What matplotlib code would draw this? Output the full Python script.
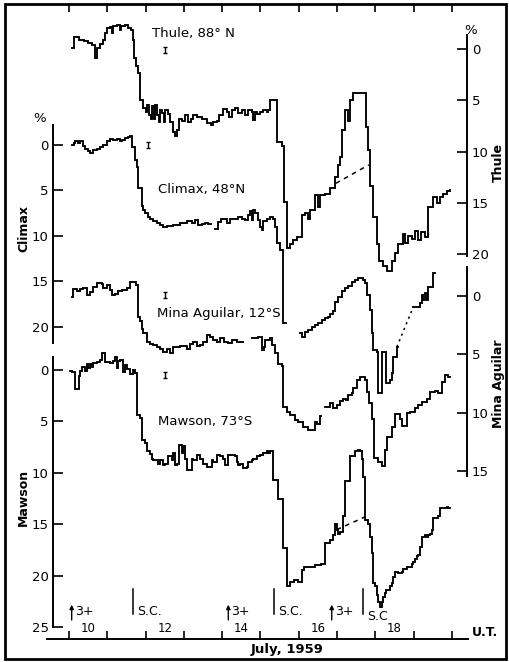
import numpy as np
import matplotlib
matplotlib.use("Agg")
import matplotlib.pyplot as plt
from matplotlib.patches import Rectangle
from matplotlib.transforms import blended_transform_factory

plt.rcParams['font.family'] = ['DejaVu Sans']

# ---------------------------------------------------------------------------
# Neutron monitor counting rates, July 1959 (percent decrease, step series).
# Each entry: time (day of July, UT) at which the level changes, new level.
# NaN marks a data gap.
# ---------------------------------------------------------------------------
thule_day = [10.07, 10.12, 10.25, 10.39, 10.50, 10.60, 10.69, 10.74, 10.81, 10.89,
             10.94, 10.99, 11.07, 11.11, 11.15, 11.25, 11.32, 11.37, 11.46, 11.54,
             11.63, 11.66, 11.70, 11.76, 11.81, 11.85, 11.94, 12.01, 12.04, 12.08,
             12.13, 12.17, 12.21, 12.25, 12.30, 12.34, 12.38, 12.43, 12.47, 12.51,
             12.58, 12.64, 12.71, 12.77, 12.81, 12.88, 12.95, 13.02, 13.11, 13.18,
             13.23, 13.33, 13.46, 13.60, 13.70, 13.75, 13.86, 13.92, 14.03, 14.12,
             14.19, 14.25, 14.33, 14.42, 14.51, 14.60, 14.68, 14.77, 14.81, 14.86,
             14.90, 14.99, 15.07, 15.16, 15.20, 15.25, 15.42, 15.55, 15.62, 15.68,
             15.77, 15.86, 15.95, 16.08, 16.16, 16.23, 16.29, 16.42, 16.51, 16.55,
             16.68, 16.81, 16.95, 17.03, 17.08, 17.12, 17.21, 17.29, 17.35, 17.42,
             17.60, 17.75, 17.81, 17.86, 17.95, 18.03, 18.10, 18.20, 18.30, 18.43,
             18.51, 18.60, 18.73, 18.77, 18.85, 18.96, 19.03, 19.11, 19.19, 19.30,
             19.38, 19.51, 19.60, 19.69, 19.77, 19.86, 19.95]
thule_pct = [-0.1, -1.2, -0.9, -0.8, -0.6, -0.4, 0.9, -0.1, -0.5, -0.9,
             -1.6, -2.0, -2.1, -1.6, -2.2, -2.3, -1.9, -2.2, -2.3, -2.0,
             -1.9, -0.9, 0.9, 1.7, 2.3, 5.0, 5.8, 6.1, 5.5, 6.4,
             6.8, 5.6, 6.8, 5.5, 6.4, 7.1, 6.0, 6.2, 7.1, 6.0,
             6.3, 7.1, 8.1, 8.5, 7.9, 6.8, 7.0, 6.4, 7.1, 6.8,
             6.4, 6.6, 6.8, 7.2, 7.4, 7.1, 7.0, 6.4, 5.9, 6.1,
             6.6, 6.0, 5.8, 6.2, 6.0, 6.4, 6.0, 6.1, 6.9, 6.1,
             6.3, 6.1, 6.0, 6.1, 6.0, 5.0, 9.1, 9.5, 14.9, 19.4,
             19.0, 18.6, 18.3, 16.2, 16.0, 16.6, 15.7, 14.2, 15.4, 14.2,
             14.1, 13.6, 12.5, 11.3, 10.5, 7.9, 6.0, 7.0, 5.0, 4.3,
             4.3, 7.6, 9.9, 13.4, 16.4, 19.0, 20.7, 21.2, 21.7, 20.7,
             19.9, 19.0, 18.0, 18.9, 18.2, 18.5, 17.8, 18.6, 17.9, 18.3,
             15.4, 14.4, 15.0, 14.4, 14.1, 13.9, 13.8]
thule_base_day = [16.97, 17.83]
thule_base_pct = [13.1, 11.3]

climax_day = [10.07, 10.12, 10.16, 10.23, 10.29, 10.37, 10.42, 10.50, 10.55, 10.63,
              10.72, 10.81, 10.90, 10.98, 11.07, 11.15, 11.25, 11.33, 11.38, 11.46,
              11.55, 11.59, 11.64, 11.72, 11.77, 11.81, 11.90, 11.94, 11.98, 12.07,
              12.11, 12.20, 12.29, 12.38, 12.46, 12.55, 12.72, 12.90, 13.07, 13.20,
              13.29, 13.38, 13.46, 13.55, 13.64, 13.72, 13.81, 13.90, 13.97, 14.12,
              14.20, 14.42, 14.51, 14.60, 14.68, 14.73, 14.77, 14.81, 14.86, 14.94,
              14.99, 15.03, 15.07, 15.16, 15.25, 15.33, 15.38, 15.42, 15.51, 15.60,
              15.67, 16.03, 16.08, 16.16, 16.25, 16.34, 16.42, 16.51, 16.60, 16.68,
              16.77, 16.81, 16.90, 16.95, 17.03, 17.12, 17.21, 17.29, 17.38, 17.47,
              17.55, 17.68, 17.73, 17.77, 17.86, 17.90, 17.95, 18.03, 18.08, 18.16,
              18.28, 18.38, 18.43, 18.47, 18.56, 18.59, 18.99, 19.16, 19.21, 19.25,
              19.30, 19.34, 19.38, 19.47, 19.51, 19.56]
climax_pct = [0.0, -0.2, -0.4, -0.2, -0.4, 0.1, 0.4, 0.7, 0.9, 0.5,
              0.4, 0.2, 0.0, -0.4, -0.7, -0.5, -0.7, -0.4, -0.5, -0.8,
              -0.9, -1.0, 0.2, 1.6, 2.4, 4.7, 6.7, 7.1, 7.5, 7.9,
              8.1, 8.4, 8.6, 8.8, 9.0, 8.9, 8.8, 8.6, 8.4, 8.6,
              8.2, 8.8, 8.7, 8.6, 8.7, np.nan, 9.2, 8.5, 8.1, 8.6,
              8.1, 7.9, 8.1, 8.2, 7.7, 7.3, 8.2, 7.1, 7.5, 8.2,
              9.0, 9.3, 8.4, 8.1, 7.9, 8.1, 9.0, 10.8, 11.5, 19.6,
              np.nan, 20.7, 21.1, 20.5, 20.3, 20.0, 19.8, 19.6, 19.2, 19.0,
              18.9, 18.6, 18.2, 17.3, 16.7, 16.0, 15.7, 15.5, 15.1, 14.8,
              14.6, 14.8, 15.2, 16.5, 18.1, 20.7, 22.5, 22.7, 27.3, 22.7,
              26.2, 25.8, 25.1, 23.3, 22.2, np.nan, 17.8, 17.4, 16.5, 17.0,
              16.3, 17.0, 15.6, 15.6, 14.1, 14.1]
climax_gap_day = [18.56, 18.99]
climax_gap_pct = [22.2, 17.8]

mina_day = [10.07, 10.10, 10.20, 10.29, 10.37, 10.46, 10.55, 10.63, 10.72, 10.85,
            10.90, 10.98, 11.07, 11.11, 11.20, 11.29, 11.38, 11.51, 11.59, 11.76,
            11.79, 11.85, 11.90, 11.94, 12.03, 12.11, 12.20, 12.29, 12.38, 12.46,
            12.55, 12.64, 12.72, 12.90, 13.07, 13.16, 13.25, 13.33, 13.42, 13.51,
            13.60, 13.68, 13.76, 13.86, 13.94, 14.05, 14.15, 14.26, 14.38, 14.55,
            14.77, 14.93, 15.03, 15.08, 15.12, 15.25, 15.31, 15.39, 15.46, 15.55,
            15.60, 15.68, 15.77, 15.90, 15.99, 16.12, 16.25, 16.42, 16.47, 16.55,
            16.59, 16.68, 16.81, 16.90, 16.99, 17.08, 17.16, 17.23, 17.29, 17.38,
            17.42, 17.51, 17.60, 17.73, 17.77, 17.84, 17.90, 17.96, 18.08, 18.16,
            18.25, 18.31, 18.43, 18.51, 18.64, 18.69, 18.82, 18.90, 19.03, 19.12,
            19.21, 19.34, 19.43, 19.56, 19.64, 19.73, 19.82, 19.90, 19.95]
mina_pct = [0.1, -0.6, -0.4, -0.6, -0.7, -0.1, -0.3, -0.8, -1.1, -1.0,
            -0.7, -0.9, -0.5, -0.1, -0.2, -0.4, -0.5, -0.7, -1.2, -0.9,
            1.8, 2.1, 2.8, 3.2, 3.9, 4.1, 4.2, 4.4, 4.5, 4.8,
            4.5, 4.9, 4.4, 4.3, 4.5, 4.1, 3.9, 4.3, 4.2, 3.9,
            3.3, 3.5, 3.8, 3.9, 3.6, 3.9, 4.0, 3.8, 3.9, np.nan,
            3.6, 3.5, 4.6, 4.4, 3.8, 3.6, 4.2, 4.9, 5.8, 6.0,
            9.5, 9.9, 10.2, 10.6, 10.8, 11.2, 11.5, 10.8, 11.0, 10.3,
            np.nan, 9.5, 9.2, 9.6, 9.3, 9.0, 8.8, 8.9, 8.5, 8.3,
            7.9, 7.2, 6.9, 7.2, 8.2, 9.2, 10.5, 13.9, 14.2, 14.6,
            13.2, 12.1, 11.2, 10.1, 10.5, 11.1, 10.0, 9.9, 9.6, 9.3,
            9.1, 8.8, 8.2, 8.1, 8.3, 7.4, 6.8, 6.9, 6.9]

mawson_day = [10.03, 10.07, 10.16, 10.26, 10.30, 10.34, 10.42, 10.46, 10.50, 10.55,
              10.59, 10.63, 10.72, 10.81, 10.85, 10.94, 11.07, 11.16, 11.20, 11.25,
              11.29, 11.33, 11.42, 11.46, 11.51, 11.59, 11.68, 11.72, 11.78, 11.85,
              11.90, 11.98, 12.03, 12.11, 12.16, 12.20, 12.33, 12.38, 12.46, 12.51,
              12.59, 12.68, 12.72, 12.77, 12.81, 12.86, 12.94, 12.98, 13.03, 13.07,
              13.20, 13.25, 13.33, 13.42, 13.51, 13.60, 13.73, 13.77, 13.86, 13.94,
              14.03, 14.07, 14.16, 14.33, 14.38, 14.42, 14.46, 14.55, 14.64, 14.68,
              14.77, 14.81, 14.90, 14.99, 15.07, 15.16, 15.20, 15.25, 15.33, 15.46,
              15.60, 15.68, 15.77, 15.87, 15.97, 16.08, 16.14, 16.42, 16.58, 16.68,
              16.81, 16.90, 16.95, 16.99, 17.03, 17.08, 17.16, 17.21, 17.34, 17.47,
              17.55, 17.60, 17.64, 17.68, 17.73, 17.81, 17.86, 17.90, 17.95, 17.99,
              18.03, 18.07, 18.12, 18.16, 18.21, 18.25, 18.29, 18.38, 18.43, 18.47,
              18.51, 18.60, 18.69, 18.73, 18.82, 18.95, 18.99, 19.03, 19.08, 19.12,
              19.16, 19.21, 19.30, 19.34, 19.38, 19.43, 19.47, 19.51, 19.64, 19.69,
              19.86, 19.90, 19.95]
mawson_pct = [0.1, 0.2, 1.8, 0.6, 0.1, -0.3, 0.1, -0.6, -0.2, -0.6,
              -0.3, -0.7, -0.8, -1.0, -1.6, -0.8, -0.7, -0.9, -1.3, -0.2,
              -0.9, -1.0, 0.2, -0.5, -0.1, 0.4, 0.0, 0.3, 4.4, 4.7,
              6.8, 7.1, 7.9, 8.2, 8.6, 8.7, 9.1, 8.7, 9.2, 9.1,
              8.4, 8.7, 8.1, 9.2, 9.1, 7.3, 8.1, 7.4, 8.6, 9.7,
              8.6, 8.7, 8.3, 8.6, 9.1, 9.4, 8.7, 8.9, 8.3, 8.4,
              8.6, 9.2, 8.3, 8.4, 8.9, 9.2, 9.1, 9.5, 9.4, 8.9,
              8.7, 8.6, 8.4, 8.3, 8.1, 7.9, 8.1, 7.9, 10.7, 12.5,
              17.3, 21.0, 20.6, 20.4, 20.6, 19.4, 19.1, 18.9, 18.8, 16.8,
              16.5, 16.0, 15.0, 15.5, 15.9, 15.7, 14.2, 10.8, 8.4, 7.9,
              7.8, 7.9, 8.6, 10.4, 14.6, 15.0, 16.2, 17.8, 20.7, 21.0,
              21.8, 22.5, 23.0, 22.5, 22.0, 21.7, 21.4, 21.0, 20.7, 20.1,
              19.6, 19.7, 19.6, 19.3, 19.1, 18.8, 18.6, 18.4, 18.1, 18.0,
              17.2, 16.2, 16.0, 16.2, 16.0, 15.9, 15.5, 14.4, 14.2, 13.4,
              13.3, 13.4, 13.4]
mawson_base_day = [16.99, 17.71]
mawson_base_pct = [15.5, 14.3]

# Typical statistical error bars (day, level, +/- error)
err_thule = (12.51, 0.1, 0.3)
err_climax = (12.06, 0.0, 0.3)
err_mina = (12.51, -0.1, 0.25)
err_mawson = (12.51, 0.5, 0.3)

# Axis ticks and labels
day_ticks = list(range(10, 21))
day_label_pos = [10.5, 12.5, 14.5, 16.5, 18.5]
day_labels = ['10', '12', '14', '16', '18']
thule_ticks = [0, 5, 10, 15, 20]
climax_ticks = [0, 5, 10, 15, 20]
mina_ticks = [0, 5, 10, 15]
mawson_ticks = [0, 5, 10, 15, 20, 25]

# Storm annotations
kp_days = [10.07, 14.16, 16.86]
sc_days = [11.68, 15.35, 17.68]

# ---------------------------------------------------------------------------
W, H = 510, 662
fig = plt.figure(figsize=(W / 100, H / 100), dpi=100)
fig.patch.set_facecolor('white')


def fx(px):
    return px / W


def fy(py):
    return 1 - py / H


pos = [fx(47), fy(639), (468 - 47) / W, (639 - 4) / H]
XLIM = (9.4256, 20.418)
LW = 1.35

# Time axis (bottom line with ticks at 0 UT, day numbers between ticks)
ax = fig.add_axes(pos)
ax.set_xlim(XLIM)
ax.set_ylim(0, 1)
ax.patch.set_visible(False)
for s in ['left', 'right', 'top']:
    ax.spines[s].set_visible(False)
ax.spines['bottom'].set_linewidth(1.4)
ax.set_yticks([])
ax.set_xticks(day_ticks)
ax.tick_params(axis='x', direction='in', length=6, width=1.2,
               labelbottom=False, top=True, bottom=True)
trans = blended_transform_factory(ax.transData, ax.transAxes)
for d, lab in zip(day_label_pos, day_labels):
    ax.text(d, 0.006, lab, transform=trans, ha='center', va='bottom', fontsize=8.5)


def station_axes(ylim, ticks, bounds, side, spine_frac):
    a = fig.add_axes(pos, label='station-%d' % len(fig.axes))
    a.set_xlim(XLIM)
    a.set_ylim(*ylim)
    a.patch.set_visible(False)
    for s in ['left', 'right', 'top', 'bottom']:
        a.spines[s].set_visible(s == side)
    a.spines[side].set_position(('axes', spine_frac))
    a.spines[side].set_bounds(*bounds)
    a.spines[side].set_linewidth(1.4)
    a.set_xticks([])
    a.yaxis.set_ticks_position(side)
    a.set_yticks(ticks)
    a.tick_params(axis='y', direction='in', length=7, width=1.2,
                  labelsize=9.5, pad=3)
    return a


ax_thule = station_axes((57.56, -4.39), thule_ticks, (-1.4, 20.2), 'right', 0.9988)
ax_climax = station_axes((54.29, -15.49), climax_ticks, (-2.2, 21.8), 'left', 0.0143)
ax_mina = station_axes((29.39, -25.02), mina_ticks, (-2.5, 15.4), 'right', 0.9988)
ax_mawson = station_axes((26.12, -35.53), mawson_ticks, (-1.3, 25.0), 'left', 0.0143)

for a, t, v in [(ax_thule, thule_day, thule_pct),
                (ax_climax, climax_day, climax_pct),
                (ax_mina, mina_day, mina_pct),
                (ax_mawson, mawson_day, mawson_pct)]:
    a.step(t, v, where='post', color='black', lw=LW, solid_joinstyle='miter')

ax_thule.plot(thule_base_day, thule_base_pct, color='black', lw=1.1, ls=(0, (3, 3)))
ax_climax.plot(climax_gap_day, climax_gap_pct, color='black', lw=1.1, ls=(0, (1.5, 2.5)))
ax_mawson.plot(mawson_base_day, mawson_base_pct, color='black', lw=1.1, ls=(0, (3, 3)))

for a, (d, v, e) in [(ax_thule, err_thule), (ax_climax, err_climax),
                     (ax_mina, err_mina), (ax_mawson, err_mawson)]:
    a.errorbar([d], [v], yerr=[e], fmt='none', ecolor='black', elinewidth=1.0,
               capsize=1.6, capthick=1.0)

# Station names beside the curves
name_kw = dict(fontsize=9.5, ha='left', va='center')
fig.text(fx(152), fy(33), 'Thule, 88° N', **name_kw)
fig.text(fx(158), fy(189), 'Climax, 48°N', **name_kw)
fig.text(fx(157), fy(314), 'Mina Aguilar, 12°S', **name_kw)
fig.text(fx(158), fy(422), 'Mawson, 73°S', **name_kw)

# Axis titles
lab_kw = dict(fontsize=9, fontweight='bold', rotation=90, ha='center', va='center')
fig.text(fx(24), fy(228), 'Climax', **lab_kw)
fig.text(fx(23), fy(497), 'Mawson', **lab_kw)
fig.text(fx(498), fy(163), 'Thule', **lab_kw)
fig.text(fx(499), fy(384), 'Mina Aguilar', **lab_kw)
fig.text(fx(40), fy(119), '%', fontsize=9.5, ha='center', va='center')
fig.text(fx(471), fy(30), '%', fontsize=9.5, ha='center', va='center')

fig.text(fx(472), fy(632), 'U.T.', fontsize=9, fontweight='bold', ha='left', va='center')
fig.text(fx(287), fy(650), 'July, 1959', fontsize=9.5, fontweight='bold',
         ha='center', va='center')

# Magnetic activity (Kp 3+) arrows and storm sudden commencements
for d in kp_days:
    ax.annotate('', xy=(d, 0.054), xytext=(d, 0.030), xycoords=trans,
                arrowprops=dict(arrowstyle='-|>', color='black', lw=1.0,
                                mutation_scale=6, shrinkA=0, shrinkB=0))
    ax.text(d + 0.08, 0.044, '3+', transform=trans, ha='left', va='center', fontsize=9)

sc_text_y = [0.044, 0.044, 0.035]
sc_text = ['S.C.', 'S.C.', 'S.C']
for d, ty, s in zip(sc_days, sc_text_y, sc_text):
    ax.axvline(d, ymin=0.039, ymax=0.079, color='black', lw=1.1)
    ax.text(d + 0.11, ty, s, transform=trans, ha='left', va='center', fontsize=9)

# Outer frame
fig.patches.append(Rectangle((fx(5), fy(659)), (506 - 5) / W, (659 - 4) / H,
                             transform=fig.transFigure, fill=False,
                             edgecolor='black', lw=2.0))

fig.savefig('out.png', dpi=100, facecolor='white')
